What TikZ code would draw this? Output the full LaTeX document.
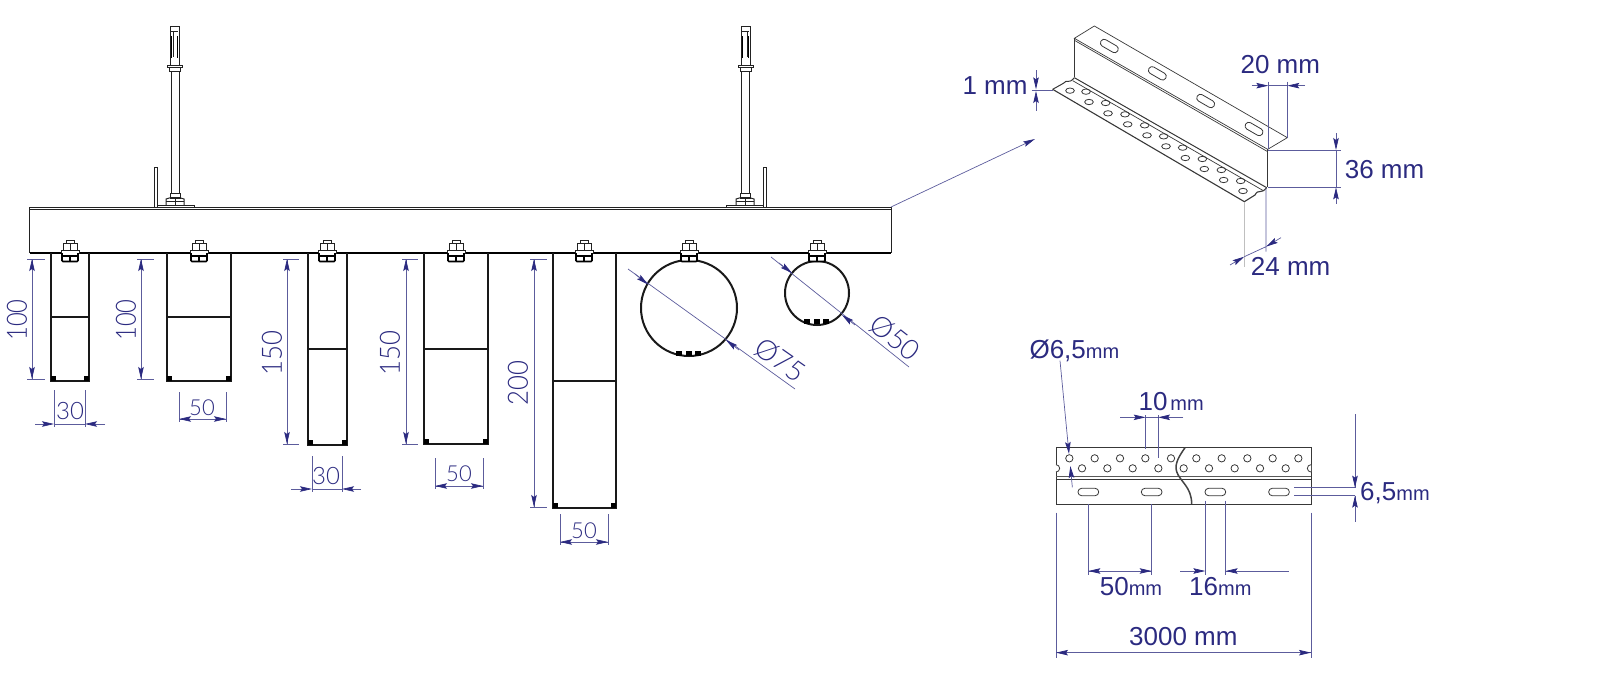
\documentclass[tikz,border=0pt]{standalone}
\usepackage{fontspec}
\setmainfont{Liberation Sans}
\newfontfamily\thinfont{Lato Light}
\usetikzlibrary{arrows.meta}
\definecolor{navy}{HTML}{2B2A80}
\definecolor{dimgray}{HTML}{5C5C9C}
\definecolor{steel}{HTML}{222222}
\tikzset{
  dimline/.style={draw=dimgray,line width=.7pt},
  da/.style={dimline,-{Stealth[length=12pt,width=5.5pt,inset=2pt,color=navy]}},
  dimt/.style={text=navy,inner sep=0pt,font=\fontsize{#1}{#1}\selectfont},
  cadt/.style={text=navy,inner sep=0pt,font=\thinfont\fontsize{#1}{#1}\selectfont},
  thin part/.style={draw=steel,line width=.8pt},
  heavy/.style={draw=black!90,line width=2pt},
  iso/.style={draw=steel!90,line width=.7pt},
  bolt/.pic={
    \draw[thin part,fill=white] (-4,-13)--(4,-13)--(4,-10)--(-4,-10)--cycle;
    \draw[thin part,fill=white] (-7,-10)--(7,-10)--(7,-3)--(-7,-3)--cycle;
    \draw[thin part] (0,-10)--(0,-3);
    \draw[thin part,fill=white] (-9,-3)--(9,-3)--(9,0)--(-9,0)--cycle;
    \draw[draw=black,line width=1.6pt,fill=white,rounded corners=1pt] (-8,0)--(-8,8.5)--(8,8.5)--(8,0);
    \draw[draw=black,line width=1.1pt] (-7,3)--(7,3) (0,3)--(0,8);
  },
  anchor bolt/.pic={
    \draw[thin part,line width=1pt] (-5,26)--(4,26)--(4,65)--(-5,65)--cycle;
    \draw[thin part] (-4,31)--(3,31) (-2,31)--(-2,57);
    \draw[draw=black,line width=1.5pt] (-3.5,36)--(-3.5,58) (2.5,36)--(2.5,58);
    \draw[thin part,line width=1pt] (-8,65)--(7,65)--(7,67.5)--(-8,67.5)--cycle;
    \draw[thin part,line width=1pt] (-6,67.5)--(-6,71)--(5,71)--(5,67.5);
    \draw[thin part,line width=1pt] (-4,71)--(-4,193) (4,71)--(4,193);
    \draw[thin part,line width=1pt] (-5,193)--(5,193)--(5,198)--(-5,198)--cycle;
    \draw[thin part,line width=1pt] (-9,205)--(-9,199)--(-4,197.5)--(4,197.5)--(9,199)--(9,205);
    \draw[thin part] (0,199)--(0,205) (-9,201)--(9,201);
    \draw[thin part,line width=1pt] (-18,205)--(19,205)--(19,207);
    \draw[thin part,line width=1pt] (-21,207)--(-21,167)--(-18,167)--(-18,207);
  },
}
\newcommand{\chan}[4]{%
  \draw[heavy] (#1,253)--(#1,#3)--(#2,#3)--(#2,253);
  \draw[draw=black!90,line width=1.6pt] (#1,#4)--(#2,#4);
  \fill[black] (#1,#3) rectangle ++(5,-5);
  \fill[black] (#2,#3) rectangle ++(-5,-5);
}
\newcommand{\vdim}[5]{% x, ytop, ybot, extleft, extright
  \draw[dimline] (#4,#2)--(#5,#2) (#4,#3)--(#5,#3);
  \draw[dimline] (#1,#2)--(#1,#3);
  \draw[da] (#1,#2+14)--(#1,#2);
  \draw[da] (#1,#3-14)--(#1,#3);
}
\newcommand{\hdim}[6]{% xl, xr, yline, ytop, ybot, arrow run
  \draw[dimline] (#1,#4)--(#1,#5) (#2,#4)--(#2,#5);
  \draw[dimline] (#1,#3)--(#2,#3);
  \draw[da] (#1+#6,#3)--(#1,#3);
  \draw[da] (#2-#6,#3)--(#2,#3);
}
\begin{document}
\begin{tikzpicture}[x=1pt,y=-1pt]
\useasboundingbox (0,0) rectangle (1600,696);
% beam
\coordinate (beamTR) at (891,207);
\draw[thin part,line width=1pt] (29.5,253)--(29.5,207)--(beamTR)--(891,253);
\draw[thin part] (29.5,209.2)--(891,209.2);
\draw[draw=black,line width=1.7pt] (29.5,253)--(891,253);
% anchors
\pic at (175,0) {anchor bolt};
\pic[xscale=-1] at (745,0) {anchor bolt};
% channels
\chan{51}{89}{381}{317}
\chan{167}{231}{381}{317}
\chan{308}{347}{445}{349}
\chan{424}{488}{444}{349}
\chan{553}{616}{508}{381}
% pipes
\draw[heavy] (689,308) circle (48);
\draw[heavy] (817,293) circle (32);
\foreach \a in {-10,0,9} \fill[black] (689+\a-2.6,350.5) rectangle ++(5.2,5);
\foreach \a in {-10,0,9} \fill[black] (817+\a-2.6,319) rectangle ++(5.2,5);
% bolts
\foreach \x in {70,199,327,456,584,689,817} \pic at (\x,253) {bolt};
% vertical dims
\vdim{32}{259}{379}{27}{45}
\node[cadt=28,rotate=90] (t100a) at (17,320) {\scalebox{.85}[1]{100}};
\vdim{141}{259}{379}{137}{154}
\node[cadt=28,rotate=90] (t100b) at (126,320) {\scalebox{.85}[1]{100}};
\vdim{287}{259}{444}{283}{299}
\node[cadt=28,rotate=90] (t150a) at (272,353) {\scalebox{.92}[1]{150}};
\vdim{406}{259}{444}{402}{418}
\node[cadt=28,rotate=90] (t150b) at (390,353) {\scalebox{.92}[1]{150}};
\vdim{534}{259}{507}{530}{547}
\node[cadt=28,rotate=90] (t200) at (518,383) {\scalebox{.92}[1]{200}};
% horizontal dims
\draw[dimline] (54,390)--(54,427) (85,390)--(85,427) (54,424)--(85,424);
\draw[da] (35,424)--(54,424);
\draw[da] (105,424)--(85,424);
\node[cadt=24] (t30a) at (70,411) {30};
\hdim{179}{226}{419}{392}{422}{11}
\node[cadt=22] (t50a) at (202,408) {50};
\draw[dimline] (312,456)--(312,492) (342,456)--(342,492) (312,489)--(342,489);
\draw[da] (291,489)--(312,489);
\draw[da] (361,489)--(342,489);
\node[cadt=24] (t30b) at (326,476) {30};
\hdim{435}{483}{486}{458}{489}{11}
\node[cadt=22] (t50b) at (459,474) {50};
\hdim{560}{608}{542}{514}{545}{11}
\node[cadt=22] (t50c) at (584,531) {50};
% diameter dims
\draw[dimline] (628,269)--(795,389);
\draw[da] (635,274)--(648,284.5);
\draw[da] (739,350)--(726,340);
\node[cadt=28,rotate=-35] (td75) at (780,360) {Ø75};
\draw[dimline] (771,257)--(909,367);
\draw[da] (779,263)--(792,273);
\draw[da] (855,325)--(842,315);
\node[cadt=28,rotate=-38] (td50) at (895,338) {Ø50};
% isometric view, coordinates in zoomed units
\begin{scope}[shift={(950,10)},x=.33333pt,y=-.33333pt]
  \coordinate (leadEnd) at (255,387);
  % top flange
  \draw[iso] (373,85)--(433,48)--(1012,383)--(953,418)--cycle;
  \draw[iso] (375,92)--(953,425);
  \foreach \c in {(478,108),(622,190),(767,273),(912,357)}
    \draw[iso,line width=.8pt,shift={\c},rotate=-30,rounded corners=3.4pt] (-29,-11) rectangle (29,11);
  % web
  \draw[iso] (373,85)--(373,202);
  \draw[iso,line width=1pt] (953,418)--(953,532);
  % lower bend & flange
  \draw[iso,line width=1pt] (373,203)--(950,533);
  \draw[iso] (368,212)--(940,542);
  \draw[iso,line width=1pt] (308,238)--(340,220) .. controls (352,205) and (355,225) .. (373,203);
  \draw[iso,line width=1.1pt] (308,238)--(883,575)--(915,555) .. controls (925,535) and (932,555) .. (950,533);
  \foreach \x/\y in {360/242,408/245,417/276,467/279,474/310,525/313,533/343,584/346,591/376,641/379,648/409,698/413,706/444,757/447,763/477,814/480,821/510,872/513,879/543}
    \draw[iso,line width=.8pt] (\x,\y) ellipse [x radius=13,y radius=8];
  % 1 mm
  \draw[dimline] (245,240)--(308,240);
  \draw[da] (258,180)--(258,238);
  \draw[da] (258,302)--(258,243);
  \node[dimt=26] (t1mm) at (135,228) {1 mm};
  % 20 mm
  \draw[dimline] (955,215)--(955,418) (1012,215)--(1012,383) (955,227)--(1012,227);
  \draw[da] (905,227)--(955,227);
  \draw[da] (1065,227)--(1012,227);
  \node[dimt=26] (t20mm) at (991,165) {20 mm};
  % 36 mm
  \draw[dimline] (955,420)--(1172,420) (955,532)--(1172,532) (1158,420)--(1158,532);
  \draw[da] (1158,370)--(1158,420);
  \draw[da] (1158,582)--(1158,532);
  \node[dimt=26,anchor=west] (t36mm) at (1184,478) {36 mm};
  % 24 mm
  \draw[draw=black!25,line width=.6pt] (883,575)--(883,770);
  \draw[dimline] (948,535)--(948,725) (883,740)--(948,710);
  \draw[da] (840,765)--(883,740);
  \draw[da] (993,683)--(948,710);
  \node[dimt=26] (t24mm) at (1022,768) {24 mm};
\end{scope}
% leader
\draw[da] (beamTR)--(leadEnd);
% flat view, coordinates in zoomed units
\begin{scope}[shift={(1020,330)},x=.33333pt,y=-.33333pt]
  \draw[iso] (108,353) rectangle (873,522);
  \draw[draw=steel!75,line width=1.4pt] (108,439)--(873,439);
  \draw[iso] (108,447)--(873,447);
  \foreach \x in {148,224,300,376,453,529,605,682,758,835}
    \draw[iso,line width=.8pt] (\x,385) circle (11);
  \foreach \x in {186,262,338,415,491,567,644,720,797}
    \draw[iso,line width=.8pt] (\x,415) circle (11);
  \path[fill=white] (108,404) arc[start angle=-90,end angle=90,radius=11]--cycle;
  \path[fill=white] (873,404) arc[start angle=-90,end angle=-270,radius=11]--cycle;
  \draw[iso,line width=.8pt] (108,404) arc[start angle=-90,end angle=90,radius=11];
  \draw[iso,line width=.8pt] (873,404) arc[start angle=-90,end angle=-270,radius=11];
  \foreach \x in {205,395,586,777}
    \draw[iso,line width=.8pt,rounded corners=3.5pt] (\x-31,475) rectangle (\x+31,497);
  \draw[draw=steel!85,line width=1.5pt] (495,353) .. controls (480,375) and (462,400) .. (470,425) .. controls (480,455) and (515,470) .. (515,522);
  % Ø6,5
  \draw[da] (120,92)--(147,372);
  \draw[da] (157,472)--(151,408);
  \node[dimt=26,anchor=west] (td65) at (28,62) {Ø6,5\fontsize{20}{20}\selectfont mm};
  % 10 mm
  \draw[dimline] (377,255)--(377,357) (414,255)--(414,385) (377,262)--(414,262);
  \draw[da] (300,262)--(377,262);
  \draw[da] (490,262)--(414,262);
  \node[dimt=26,anchor=west] (t10mm) at (355,215) {10\hspace{3pt}\fontsize{20}{20}\selectfont mm};
  % 6,5
  \draw[dimline] (822,473)--(1005,473) (822,497)--(1005,497) (1005,253)--(1005,473) (1005,497)--(1005,575);
  \draw[da] (1005,425)--(1005,473);
  \draw[da] (1005,545)--(1005,497);
  \node[dimt=26,anchor=west] (t65mm) at (1020,490) {6,5\fontsize{20}{20}\selectfont mm};
  % 50 mm
  \draw[dimline] (205,522)--(205,735) (395,522)--(395,735) (205,723)--(395,723);
  \draw[da] (250,723)--(205,723);
  \draw[da] (350,723)--(395,723);
  \node[dimt=26] (t50mm) at (333,771) {50\fontsize{20}{20}\selectfont mm};
  % 16 mm
  \draw[dimline] (556,512)--(556,735) (617,512)--(617,735) (617,723)--(808,723);
  \draw[da] (480,723)--(556,723);
  \draw[da] (665,723)--(617,723);
  \node[dimt=26] (t16mm) at (601,771) {16\fontsize{20}{20}\selectfont mm};
  % 3000 mm
  \draw[dimline] (108,548)--(108,985) (873,548)--(873,985) (108,968)--(873,968);
  \draw[da] (155,968)--(108,968);
  \draw[da] (826,968)--(873,968);
  \node[dimt=26] (t3000) at (490,921) {3000 mm};
\end{scope}
\end{tikzpicture}
\end{document}
